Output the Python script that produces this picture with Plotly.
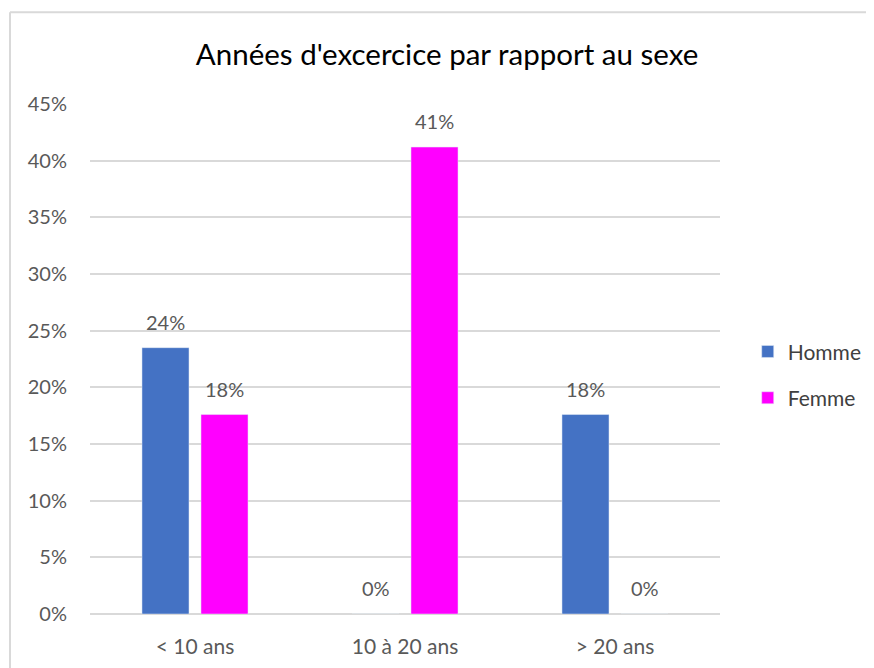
import plotly.graph_objects as go

categories = ["< 10 ans", "10 à 20 ans", "> 20 ans"]
homme = [0.235, 0.0, 0.176]
femme = [0.176, 0.412, 0.0]

FONT = "Lato, 'Open Sans', sans-serif"
GREY = "#595959"
LABEL_SIZE = 20

fig = go.Figure()
fig.add_trace(go.Bar(name="Homme", x=categories, y=homme, marker_color="#4472C4",
                     legendgroup="h"))
fig.add_trace(go.Bar(name="Femme", x=categories, y=femme, marker_color="#FF00FF",
                     legendgroup="f"))

# data labels placed from the data arrays
annotations = []
for series, shift in ((homme, -29.5), (femme, 29.5)):
    for cat, val in zip(categories, series):
        annotations.append(dict(x=cat, y=val, xref="x", yref="y", text=f"{val:.0%}",
                                showarrow=False, xshift=shift, yshift=26,
                                yanchor="middle",
                                font=dict(family=FONT, size=LABEL_SIZE, color=GREY)))

fig.update_layout(
    width=866, height=660,
    margin=dict(l=82, r=154, t=96, b=54, autoexpand=False),
    paper_bgcolor="white", plot_bgcolor="white",
    barmode="group", bargap=0.438, bargroupgap=0.203,
    title=dict(text="Années d'excercice par rapport au sexe", x=0.507, xanchor="center",
               y=0.93, yanchor="middle", font=dict(family=FONT, size=29.5, color="#000000")),
    font=dict(family=FONT, size=LABEL_SIZE, color=GREY),
    xaxis=dict(showgrid=False, showline=False, ticks="", ticklabelstandoff=18,
               automargin=False, tickfont=dict(size=21, color=GREY)),
    yaxis=dict(range=[0, 0.45], dtick=0.05, tickformat=".0%", showgrid=True,
               gridcolor="#d9d9d9", gridwidth=1.5, zeroline=True, zerolinecolor="#d9d9d9",
               zerolinewidth=1.5, ticks="", ticklabelstandoff=22, automargin=False,
               tickfont=dict(size=LABEL_SIZE, color=GREY)),
    legend=dict(x=1.044, y=0.469, xanchor="left", yanchor="middle",
                traceorder="grouped", tracegroupgap=16,
                font=dict(size=21, color="#404040", family=FONT),
                itemwidth=30, bgcolor="rgba(0,0,0,0)"),
    annotations=annotations,
    shapes=[
        dict(type="line", xref="paper", yref="paper", x0=-0.127, x1=1.5, y0=1.18, y1=1.18,
             line=dict(color="#d9d9d9", width=2)),
        dict(type="line", xref="paper", yref="paper", x0=-0.127, x1=-0.127, y0=1.18, y1=-0.2,
             line=dict(color="#d9d9d9", width=2)),
    ],
)

fig.write_html("out.html")
